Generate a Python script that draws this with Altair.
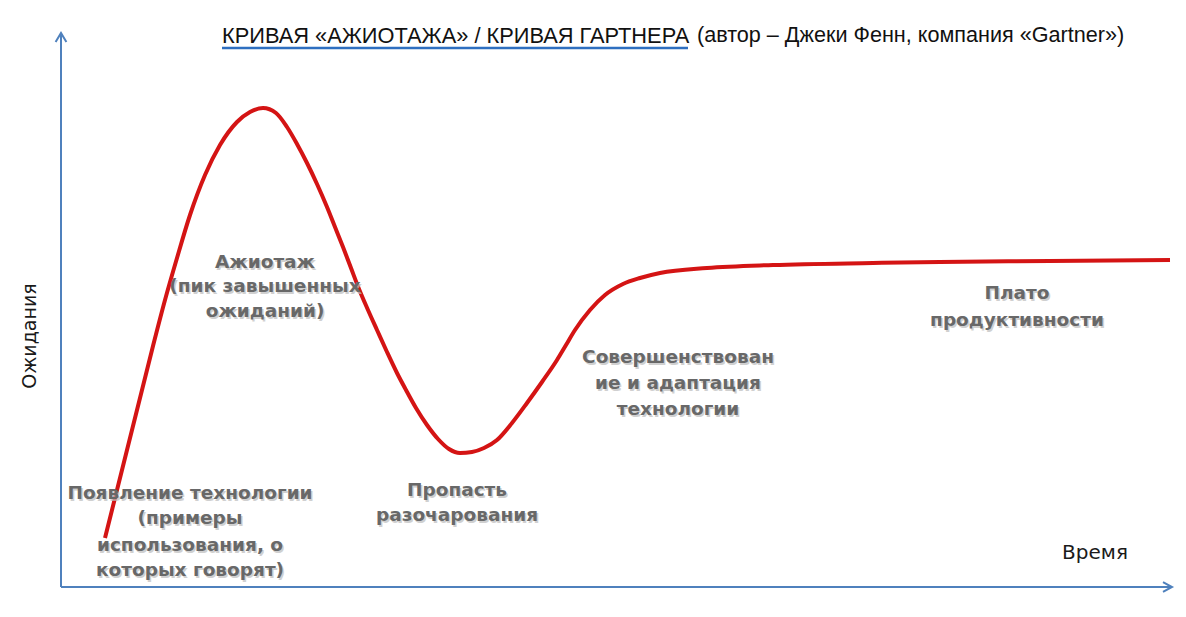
import altair as alt
import pandas as pd

curve_t = [44, 56, 68, 80, 92, 104, 116, 129, 144, 159, 176, 189, 202,
           215, 226, 236, 246, 256, 266, 274, 282, 290, 298, 307, 316, 326, 336,
           345, 355, 366, 377, 388, 399,
           411, 423, 436, 451, 466, 481, 496, 505, 514, 529, 544, 562, 579, 599,
           646, 712, 812, 879, 989, 1109]
curve_e = [49, 97, 145, 193, 241, 287, 329, 372, 412, 442, 465, 475, 479,
           474, 460, 443, 424, 403, 380, 360, 340, 319, 298, 277, 257, 235, 214,
           197, 179, 162, 148, 138, 134,
           135, 139, 147, 164, 184, 205, 227, 242, 257, 277, 292, 303, 309, 314,
           319, 322, 324, 325, 326, 327]

# Phase labels (one row per text line)
ann_lines = ["Ажиотаж", "(пик завышенных", "ожиданий)",
             "Появление технологии", "(примеры", "использования, о", "которых говорят)",
             "Пропасть", "разочарования",
             "Совершенствован", "ие и адаптация", "технологии",
             "Плато", "продуктивности"]
ann_t = [204, 204, 204,
         129, 129, 129, 129,
         396, 396,
         617, 617, 617,
         956, 956]
ann_e = [325, 301, 276,
         94, 69, 42, 17,
         97, 72,
         230, 204, 178,
         294, 267]

title_main = "КРИВАЯ «АЖИОТАЖА» / КРИВАЯ ГАРТНЕРА"
title_rest = "(автор – Джеки Фенн, компания «Gartner»)"
x_title = "Время"
y_title = "Ожидания"

curve_df = pd.DataFrame({"t": curve_t, "e": curve_e})
ann_df = pd.DataFrame({"line": ann_lines, "t": ann_t, "e": ann_e})
axes_df = pd.DataFrame({"t": [0, 0], "e": [0, 0], "t2": [1111, 0], "e2": [0, 554]})
arrow_df = pd.DataFrame({
    "t": [1111, 0], "e": [0, 554],
    "shape": ["M -1 -0.55 L 0 0 L -1 0.55", "M -0.6 1 L 0 0 L 0.6 1"],
})
xlab_df = pd.DataFrame({"t": [1034], "e": [34], "txt": [x_title]})
ylab_df = pd.DataFrame({"t": [-31], "e": [251], "txt": [y_title]})

XS = alt.Scale(domain=[-53, 1117], nice=False, zero=False)
YS = alt.Scale(domain=[-22, 579], nice=False, zero=False)
xq = alt.X("t:Q", scale=XS, axis=None)
yq = alt.Y("e:Q", scale=YS, axis=None)

AXIS_BLUE = "#4f81bd"
LABEL_FONT = "DejaVu Sans"

axes = alt.Chart(axes_df).mark_rule(color=AXIS_BLUE, strokeWidth=2).encode(
    x=xq, y=yq, x2="t2:Q", y2="e2:Q")

arrows = alt.Chart(arrow_df).mark_point(
    filled=False, stroke=AXIS_BLUE, strokeWidth=2, size=324, opacity=1
).encode(x=xq, y=yq, shape=alt.Shape("shape:N", scale=None, legend=None))

curve = alt.Chart(curve_df).mark_line(
    color="#d41414", strokeWidth=4, interpolate="monotone"
).encode(x=xq, y=yq, order="t:Q")

ann_shadow = alt.Chart(ann_df).mark_text(
    font=LABEL_FONT, fontSize=18.5, fontWeight="bold", color="#bdbdbd",
    opacity=0.7, align="center", baseline="middle", dx=1.5, dy=1.5
).encode(x=xq, y=yq, text="line:N")

ann = alt.Chart(ann_df).mark_text(
    font=LABEL_FONT, fontSize=18.5, fontWeight="bold", color="#686868",
    align="center", baseline="middle"
).encode(x=xq, y=yq, text="line:N")

xlab = alt.Chart(xlab_df).mark_text(
    font=LABEL_FONT, fontSize=20, color="#1a1a1a", align="center", baseline="middle"
).encode(x=xq, y=yq, text="txt:N")

ylab = alt.Chart(ylab_df).mark_text(
    font=LABEL_FONT, fontSize=19, color="#1a1a1a", align="center",
    baseline="middle", angle=270
).encode(x=xq, y=yq, text="txt:N")

title1 = alt.Chart(pd.DataFrame({"txt": [title_main]})).mark_text(
    font="Liberation Sans", fontSize=21.8, color="#111111", align="left", baseline="middle"
).encode(x=alt.value(214), y=alt.value(28), text="txt:N")

title2 = alt.Chart(pd.DataFrame({"txt": [title_rest]})).mark_text(
    font="Liberation Sans", fontSize=21.6, color="#111111", align="left", baseline="middle"
).encode(x=alt.value(689), y=alt.value(28), text="txt:N")

underline = alt.Chart(pd.DataFrame({"k": [0]})).mark_rule(
    color="#2e6fc0", strokeWidth=2.5
).encode(x=alt.value(214), x2=alt.value(680), y=alt.value(40))

chart = alt.layer(
    axes, arrows, curve, ann_shadow, ann, xlab, ylab, title1, title2, underline
).properties(
    width=1170, height=601, padding=0, autosize=alt.AutoSizeParams(type="none"),
    background="white"
).configure_view(stroke=None)

chart.save("out.html", embed_options={"renderer": "svg", "actions": False})
